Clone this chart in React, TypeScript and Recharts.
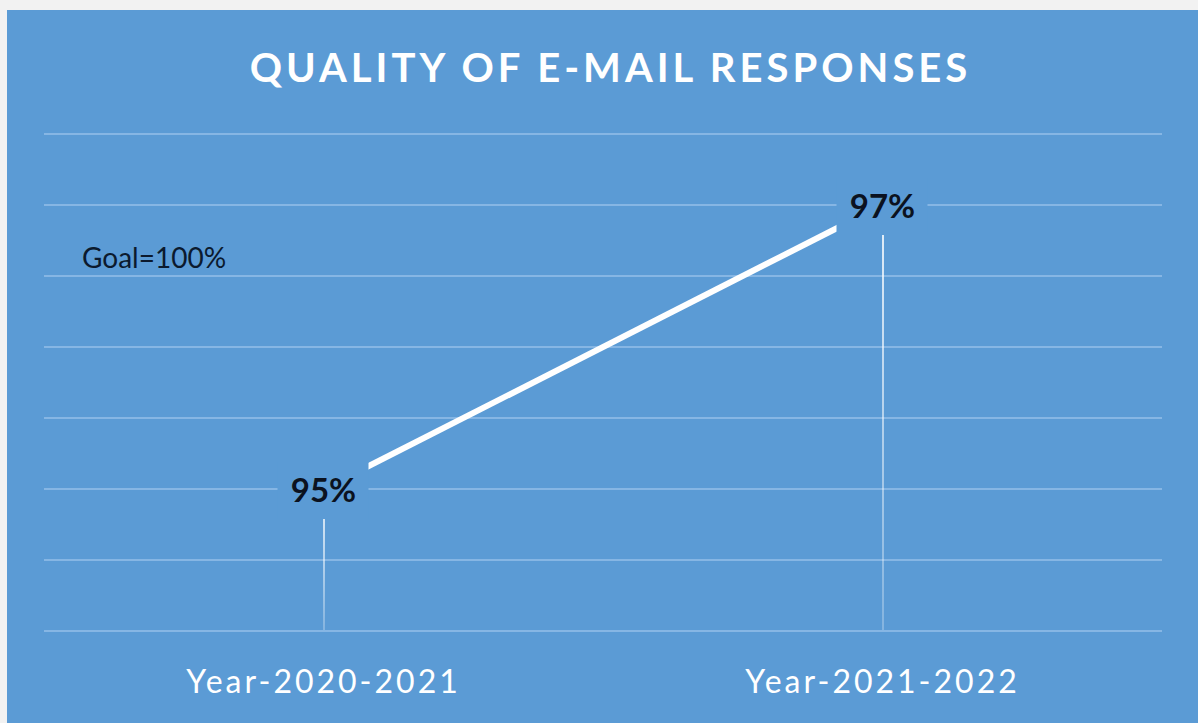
import React from 'react';
import { ComposedChart, Line, Bar, XAxis, YAxis, CartesianGrid, LabelList } from 'recharts';

const categories = ['Year-2020-2021', 'Year-2021-2022'];
const quality = [95, 97];
const yTicks = [94, 94.5, 95, 95.5, 96, 96.5, 97, 97.5];

const BG = '#5B9BD5';
const GRID = '#86B6E4';
const FONT = 'Lato, "Open Sans", sans-serif';

const data = categories.map((c, i) => ({ cat: c, value: quality[i] }));

function ValueLabel(props: any) {
  const { x, y, value } = props;
  return (
    <g>
      <rect x={x - 46} y={y - 27} width={91} height={57} fill={BG} />
      <text x={x} y={y + 13} textAnchor="middle" fontFamily={FONT} fontWeight={700} fontSize={33} fill="#0b1220">
        {`${value}%`}
      </text>
    </g>
  );
}

export default function App() {
  return (
    <div style={{ position: 'relative', width: 1198, height: 723, background: '#f2f2f2', overflow: 'hidden' }}>
      <style>{'body{margin:0}'}</style>
      <div style={{ position: 'absolute', left: 7, top: 10, width: 1191, height: 713, background: BG }}>
        <ComposedChart width={1191} height={713} data={data} margin={{ top: 124, right: 36, bottom: 62, left: 37 }}>
          <defs>
            <linearGradient id="drop" x1="0" y1="0" x2="0" y2="1">
              <stop offset="0%" stopColor="#ffffff" stopOpacity={0.85} />
              <stop offset="100%" stopColor="#ffffff" stopOpacity={0.25} />
            </linearGradient>
          </defs>
          <CartesianGrid vertical={false} stroke={GRID} strokeWidth={2} />
          <XAxis
            dataKey="cat"
            height={30}
            axisLine={{ stroke: GRID, strokeWidth: 2 }}
            tickLine={false}
            tick={{ fill: '#ffffff', fontSize: 32, fontFamily: FONT, letterSpacing: 3 }}
            dy={31}
          />
          <YAxis hide domain={[94, 97.5]} ticks={yTicks} />
          <Bar dataKey="value" barSize={2} fill="url(#drop)" isAnimationActive={false} />
          <Line
            dataKey="value"
            stroke="#ffffff"
            strokeWidth={6}
            dot={false}
            activeDot={false}
            isAnimationActive={false}
          >
            <LabelList dataKey="value" content={<ValueLabel />} />
          </Line>
        </ComposedChart>
        <div style={{ position: 'absolute', left: 8, top: 33, width: 1191, textAlign: 'center', color: '#ffffff', fontFamily: FONT, fontWeight: 700, fontSize: 40, letterSpacing: 4 }}>
          QUALITY OF E-MAIL RESPONSES
        </div>
        <div style={{ position: 'absolute', left: 75, top: 230, color: '#0b1a2e', fontFamily: FONT, fontSize: 28 }}>
          Goal=100%
        </div>
      </div>
    </div>
  );
}
